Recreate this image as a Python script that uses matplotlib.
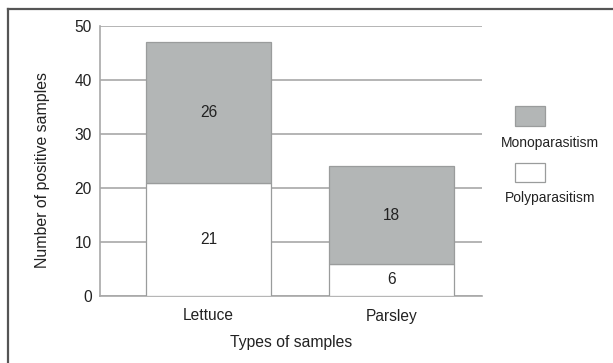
import matplotlib
matplotlib.use("Agg")
import matplotlib.pyplot as plt
from matplotlib.patches import Rectangle
from matplotlib.lines import Line2D

samples = ["Lettuce", "Parsley"]
poly = [21, 6]
mono = [26, 18]

plt.rcParams["font.family"] = ["Liberation Sans", "DejaVu Sans"]

fig = plt.figure(figsize=(6.13, 3.63), dpi=100)
ax = fig.add_axes([100 / 613, 1 - 296 / 363, 382 / 613, 270 / 363])

x = [0, 1]
w = 0.683
edge = "#9a9c9c"
gray = "#b3b6b6"
txt = "#222222"

ax.bar(x, poly, w, color="white", edgecolor=edge, linewidth=0.9, zorder=3)
ax.bar(x, mono, w, bottom=poly, color=gray, edgecolor=edge, linewidth=0.9, zorder=3)

for i in range(len(samples)):
    ax.text(x[i], poly[i] / 2, str(poly[i]), ha="center", va="center", fontsize=11.2, color=txt, zorder=4)
    ax.text(x[i], poly[i] + mono[i] / 2, str(mono[i]), ha="center", va="center", fontsize=11.2, color=txt, zorder=4)

ax.set_xlim(-0.593, 1.495)
ax.set_ylim(0, 50)
ax.set_yticks([0, 10, 20, 30, 40, 50])
ax.set_xticks(x)
ax.set_xticklabels(samples)
ax.tick_params(length=0, labelsize=11.2, colors=txt, pad=6)
ax.tick_params(axis="x", pad=9)
ax.yaxis.grid(True, color="#a8a8a8", linewidth=1.2, zorder=0)
ax.set_axisbelow(True)
for s in ["top", "right"]:
    ax.spines[s].set_visible(False)
for s in ["left", "bottom"]:
    ax.spines[s].set_color("#a8a8a8")
    ax.spines[s].set_linewidth(1.2)

ax.set_xlabel("Types of samples", fontsize=11.3, color=txt, labelpad=8)
ax.set_ylabel("Number of positive samples", fontsize=11.4, color=txt)
ax.yaxis.set_label_coords(-50 / 382, (296 - 170) / 270)

# legend, drawn by hand as in the original
fig.patches.append(Rectangle((515 / 613, 1 - 126 / 363), 30 / 613, 20 / 363, transform=fig.transFigure,
                             facecolor=gray, edgecolor=edge, linewidth=0.9))
fig.text(550 / 613, 1 - 143 / 363, "Monoparasitism", ha="center", va="center", fontsize=10, color=txt)
fig.patches.append(Rectangle((515 / 613, 1 - 182 / 363), 30 / 613, 19 / 363, transform=fig.transFigure,
                             facecolor="white", edgecolor=edge, linewidth=0.9))
fig.text(550 / 613, 1 - 198 / 363, "Polyparasitism", ha="center", va="center", fontsize=10, color=txt)

# outer frame on left and top
fig.lines.append(Line2D([8 / 613, 8 / 613], [0, 1 - 9 / 363], transform=fig.transFigure, color="#555555", linewidth=1.6))
fig.lines.append(Line2D([8 / 613, 1], [1 - 9 / 363, 1 - 9 / 363], transform=fig.transFigure, color="#555555", linewidth=1.6))

fig.savefig("out.png", dpi=100)
